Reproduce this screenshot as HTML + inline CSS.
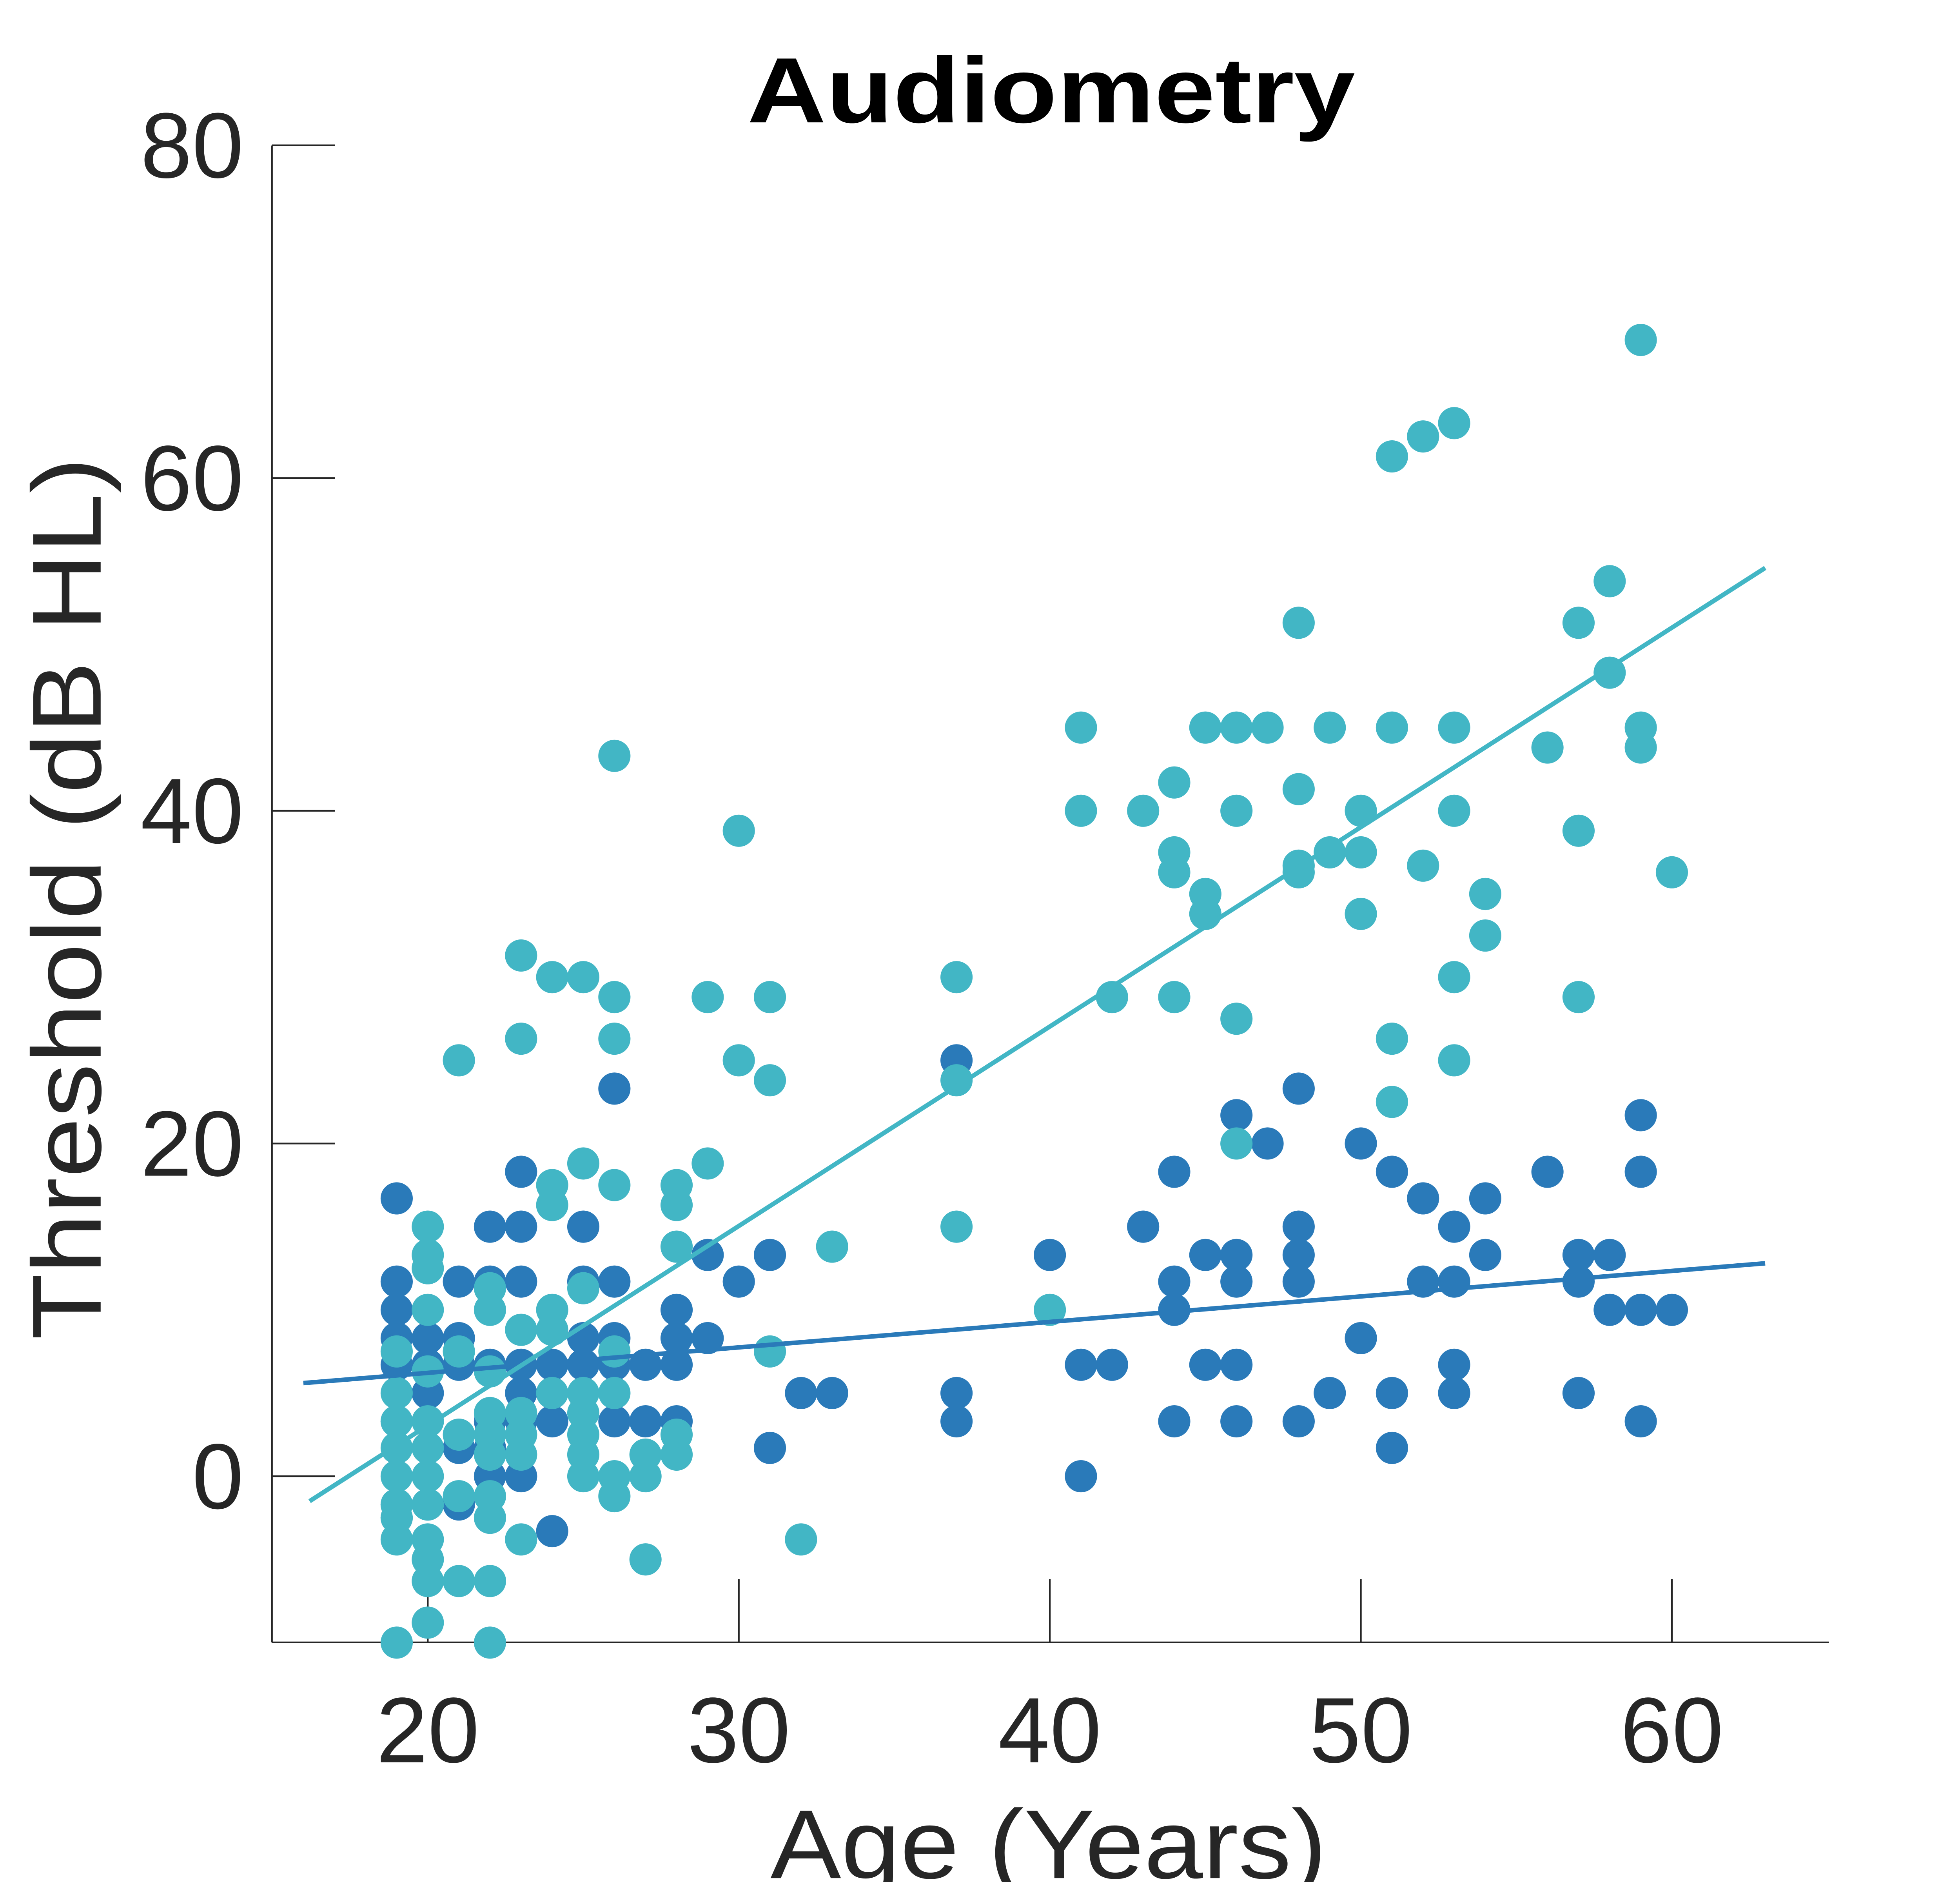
<!DOCTYPE html>
<html><head><meta charset="utf-8"><style>
html,body{margin:0;padding:0;background:#fff;}
svg{display:block;}
text{font-family:"Liberation Sans",sans-serif;fill:#262626;}
</style></head><body>
<svg id="chart" width="5100" height="4800" viewBox="0 0 1552 1461" xmlns="http://www.w3.org/2000/svg">
<g id="axes"></g>
<g id="marks"></g>
<text x="580" y="95" textLength="472" lengthAdjust="spacingAndGlyphs" font-size="72" font-weight="bold" style="fill:#000">Audiometry</text>
<text x="598" y="1458" textLength="432" lengthAdjust="spacingAndGlyphs" font-size="76">Age (Years)</text>
<text x="-1040" y="78" transform="rotate(-90)" textLength="685" lengthAdjust="spacingAndGlyphs" font-size="76">Threshold (dB HL)</text>
</svg>
<script>
const xTicks=[20,30,40,50,60];
const yTicks=[0,20,40,60,80];
const darkAges=[19,19,19,19,19,19,19,19,20,20,20,20,20,21,21,21,21,21,22,22,22,22,22,22,23,23,23,23,23,23,23,24,24,24,25,25,25,25,26,26,26,26,26,27,27,28,28,28,28,29,29,30,31,31,32,33,37,37,37,40,41,41,42,43,44,44,44,44,45,45,46,46,46,46,46,47,48,48,48,48,48,49,50,50,51,51,51,52,52,53,53,53,53,54,54,56,57,57,57,58,58,59,59,59,59,60];
const darkVals=[16.7,11.7,10,8.3,6.7,3.3,-1.7,-2.5,8.3,6.7,5,3.3,-1.7,11.7,8.3,6.7,1.7,-1.7,15,11.7,6.7,3.3,1.7,0,18.3,15,11.7,6.7,5,3.3,0,6.7,3.3,-3.3,15,11.7,8.3,6.7,23.3,11.7,8.3,6.7,3.3,6.7,3.3,10,8.3,6.7,3.3,13.3,8.3,11.7,13.3,1.7,5,5,25,5,3.3,13.3,6.7,0,6.7,15,18.3,11.7,10,3.3,13.3,6.7,21.7,13.3,11.7,6.7,3.3,20,23.3,15,13.3,11.7,3.3,5,20,8.3,18.3,5,1.7,16.7,11.7,15,11.7,6.7,5,16.7,13.3,18.3,13.3,11.7,5,13.3,10,21.7,18.3,10,3.3,10];
const cyanAges=[19,19,19,19,19,19,19,19,19,20,20,20,20,20,20,20,20,20,20,20,20,20,21,21,21,21,21,22,22,22,22,22,22,22,22,22,22,23,23,23,23,23,23,23,24,24,24,24,24,24,25,25,25,25,25,25,25,25,26,26,26,26,26,26,26,26,27,27,27,28,28,28,28,28,29,29,30,30,31,31,31,32,33,37,37,37,40,41,41,42,43,44,44,44,44,45,45,45,46,46,46,46,47,48,48,48,48,49,49,50,50,50,51,51,51,51,52,52,53,53,53,53,53,54,54,56,57,57,57,58,58,59,59,59,60];
const cyanVals=[7.5,5,3.3,1.7,0,-1.7,-2.5,-3.8,-10,15,13.3,12.5,10,6.3,3.3,1.7,0,-1.7,-3.8,-5,-6.3,-8.8,25,7.5,2.5,-1.2,-6.3,11.3,10,6.3,3.8,2.5,1.3,-1.2,-2.5,-6.3,-10,31.3,26.3,8.8,3.8,2.5,1.3,-3.8,30,17.5,16.3,10,8.8,5,30,18.8,11.3,5,3.8,2.5,1.3,0,43.3,28.8,26.3,17.5,7.5,5,0,-1.2,1.3,0,-5,17.5,16.3,13.8,2.5,1.3,28.8,18.8,38.8,25,28.8,23.8,7.5,-3.8,13.8,30,23.8,15,10,45,40,28.8,40,41.7,37.5,36.3,28.8,45,35,33.8,45,40,27.5,20,45,51.3,41.3,36.7,36.3,45,37.5,40,37.5,33.8,61.3,45,26.3,22.5,62.5,36.7,63.3,45,40,30,25,35,32.5,43.8,51.3,38.8,28.8,53.8,48.3,68.3,45,43.8,36.3];
const darkFit=[[16,5.6],[63,12.8]];
const cyanFit=[[16.2,-1.5],[63,54.6]];
const X=a=>332+(a-20)*24.15;
const Y=v=>1146-v*12.915;
const NS="http://www.w3.org/2000/svg";
const axes=document.getElementById('axes'),marks=document.getElementById('marks');
function mk(tag,attrs,parent){const e=document.createElementNS(NS,tag);for(const k in attrs)e.setAttribute(k,attrs[k]);parent.appendChild(e);return e;}
let e;
e=mk('line',{x1:211,y1:113,x2:211,y2:1275,stroke:'#262626','stroke-width':1.3},axes);


e=mk('line',{x1:211,y1:1275,x2:1420,y2:1275,stroke:'#262626','stroke-width':1.3},axes);


yTicks.forEach(t=>{
 e=mk('line',{x1:211,y1:Y(t),x2:260,y2:Y(t),stroke:'#262626','stroke-width':1.3},axes);
 
 
 e=mk('text',{x:189,y:Y(t)+25,'text-anchor':'end','font-size':72},axes);e.textContent=t;
 
 
});
xTicks.forEach(t=>{
 e=mk('line',{x1:X(t),y1:1275,x2:X(t),y2:1226,stroke:'#262626','stroke-width':1.3},axes);
 
 
 e=mk('text',{x:X(t),y:1368,'text-anchor':'middle','font-size':72},axes);e.textContent=t;
 
 
});
darkAges.forEach((a,i)=>{
 e=mk('circle',{cx:X(a),cy:Y(darkVals[i]),r:12.5,fill:'#2a7ab9'},marks);
 
 
});
cyanAges.forEach((a,i)=>{
 e=mk('circle',{cx:X(a),cy:Y(cyanVals[i]),r:12.5,fill:'#42b6c5'},marks);
 
 
});
e=mk('line',{x1:X(darkFit[0][0]),y1:Y(darkFit[0][1]),x2:X(darkFit[1][0]),y2:Y(darkFit[1][1]),stroke:'#2a7ab9','stroke-width':3.5},marks);


e=mk('line',{x1:X(cyanFit[0][0]),y1:Y(cyanFit[0][1]),x2:X(cyanFit[1][0]),y2:Y(cyanFit[1][1]),stroke:'#42b6c5','stroke-width':3.5},marks);


</script>
</body></html>
